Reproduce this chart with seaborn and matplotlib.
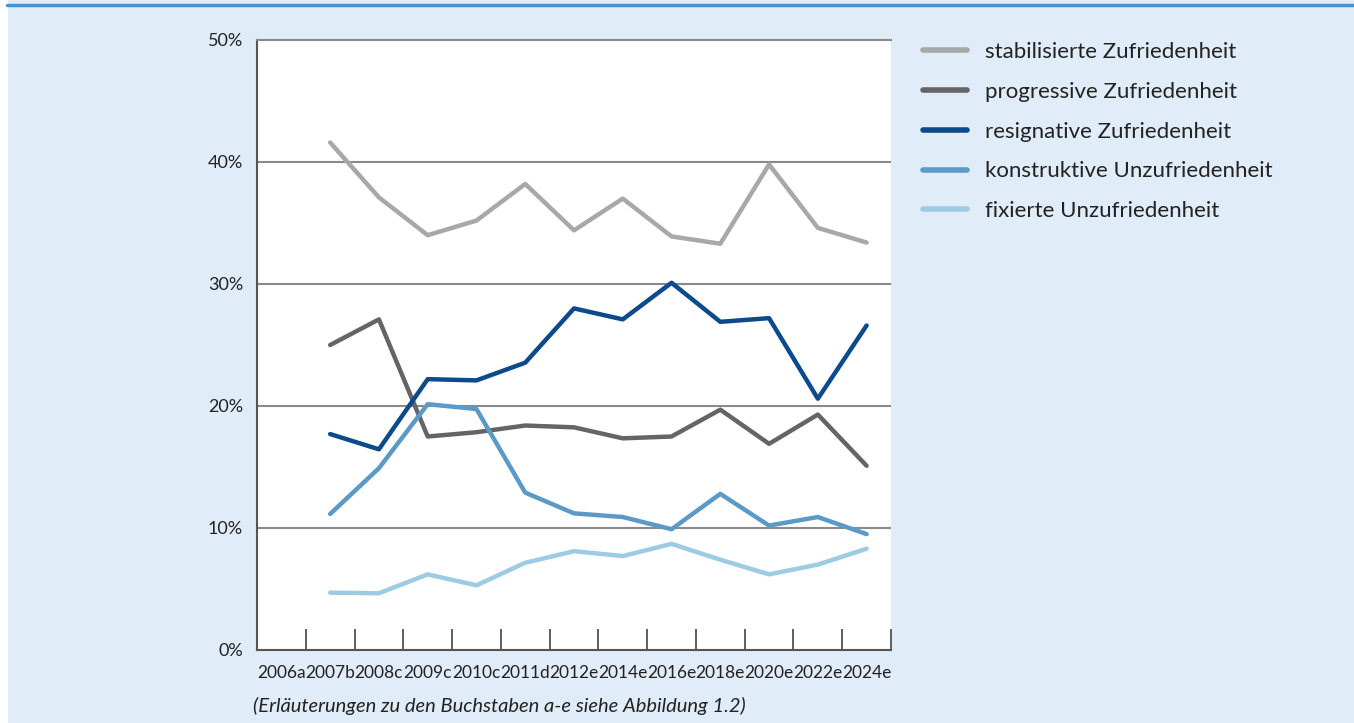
import matplotlib
matplotlib.use("Agg")
import matplotlib.pyplot as plt
import pandas as pd
import seaborn as sns

categories = ["2006a", "2007b", "2008c", "2009c", "2010c", "2011d", "2012e",
              "2014e", "2016e", "2018e", "2020e", "2022e", "2024e"]
years = categories[1:]  # no data for 2006a

stabilisiert = [41.6, 37.1, 34.0, 35.2, 38.2, 34.4, 37.0, 33.9, 33.3, 39.8, 34.6, 33.4]
progressiv = [25.0, 27.1, 17.5, 17.85, 18.4, 18.25, 17.35, 17.5, 19.7, 16.9, 19.3, 15.1]
resignativ = [17.7, 16.45, 22.2, 22.1, 23.55, 28.0, 27.1, 30.1, 26.9, 27.2, 20.6, 26.6]
konstruktiv = [11.15, 14.9, 20.15, 19.75, 12.9, 11.2, 10.9, 9.9, 12.8, 10.2, 10.9, 9.5]
fixiert = [4.7, 4.65, 6.2, 5.3, 7.15, 8.1, 7.7, 8.7, 7.4, 6.2, 7.0, 8.3]

series = {
    "stabilisierte Zufriedenheit": stabilisiert,
    "progressive Zufriedenheit": progressiv,
    "resignative Zufriedenheit": resignativ,
    "konstruktive Unzufriedenheit": konstruktiv,
    "fixierte Unzufriedenheit": fixiert,
}
colors = ["#a6a8a9", "#636566", "#0c4a8c", "#5b9ac6", "#9dcbe4"]

rows = []
for name, values in series.items():
    for year, v in zip(years, values):
        rows.append({"pos": categories.index(year), "wert": v, "typ": name})
df = pd.DataFrame(rows)

sns.set_style("white")
plt.rcParams["font.family"] = ["Lato", "DejaVu Sans"]

bg = "#e0ecf8"
grid_col = "#8a8a8a"

fig = plt.figure(figsize=(13.54, 7.23), dpi=100, facecolor=bg)

# white strip at the left edge
fig.add_artist(plt.Rectangle((0, 0), 7 / 1354, 1, color="white",
                             transform=fig.transFigure, zorder=0))

ax = fig.add_axes([257 / 1354, 1 - 650 / 723, 634 / 1354, 610 / 723])
ax.set_facecolor("white")

# gridlines behind the data
for g in [10, 20, 30, 40]:
    ax.axhline(g, color=grid_col, lw=1.5, zorder=1)

sns.lineplot(data=df, x="pos", y="wert", hue="typ", palette=colors,
             linewidth=3.2, ax=ax, legend=False, zorder=3)

ax.set_xlim(-0.5, len(categories) - 0.5)
ax.set_ylim(0, 50)
ax.set_xlabel("")
ax.set_ylabel("")

ax.set_xticks(range(len(categories)))
ax.set_xticklabels(categories, fontsize=12.5, color="#222222")
ax.set_xticks([i - 0.5 for i in range(len(categories) + 1)], minor=True)
ax.tick_params(axis="x", which="major", length=0, pad=11)
ax.tick_params(axis="x", which="minor", bottom=True, direction="in",
               length=15, width=1.2, color="#444444")

ax.set_yticks([0, 10, 20, 30, 40, 50])
ax.set_yticklabels(["0%", "10%", "20%", "30%", "40%", "50%"],
                   fontsize=13, color="#222222")
ax.tick_params(axis="y", length=0, pad=10)

for side in ["left", "bottom"]:
    ax.spines[side].set_color("#555555")
    ax.spines[side].set_linewidth(1.5)
ax.spines["top"].set_color(grid_col)
ax.spines["top"].set_linewidth(1.5)
ax.spines["right"].set_visible(False)

handles = [plt.Line2D([], [], color=c, lw=4, solid_capstyle="round") for c in colors]
fig.legend(handles, list(series.keys()), loc="upper left",
           bbox_to_anchor=(903 / 1354, 1 - 22 / 723), frameon=False,
           fontsize=16, handlelength=2.0, handletextpad=0.8,
           labelspacing=0.89, labelcolor="#222222")

fig.text(253 / 1354, 1 - 706 / 723,
         "(Erläuterungen zu den Buchstaben a-e siehe Abbildung 1.2)",
         fontsize=14.5, style="italic", color="#222222", va="center")

# blue rule across the top
fig.add_artist(plt.Line2D([7 / 1354, 1], [1 - 5 / 723, 1 - 5 / 723],
                          color="#4a8fcd", lw=2.5, transform=fig.transFigure))

fig.savefig("out.png", dpi=100, facecolor=bg)
